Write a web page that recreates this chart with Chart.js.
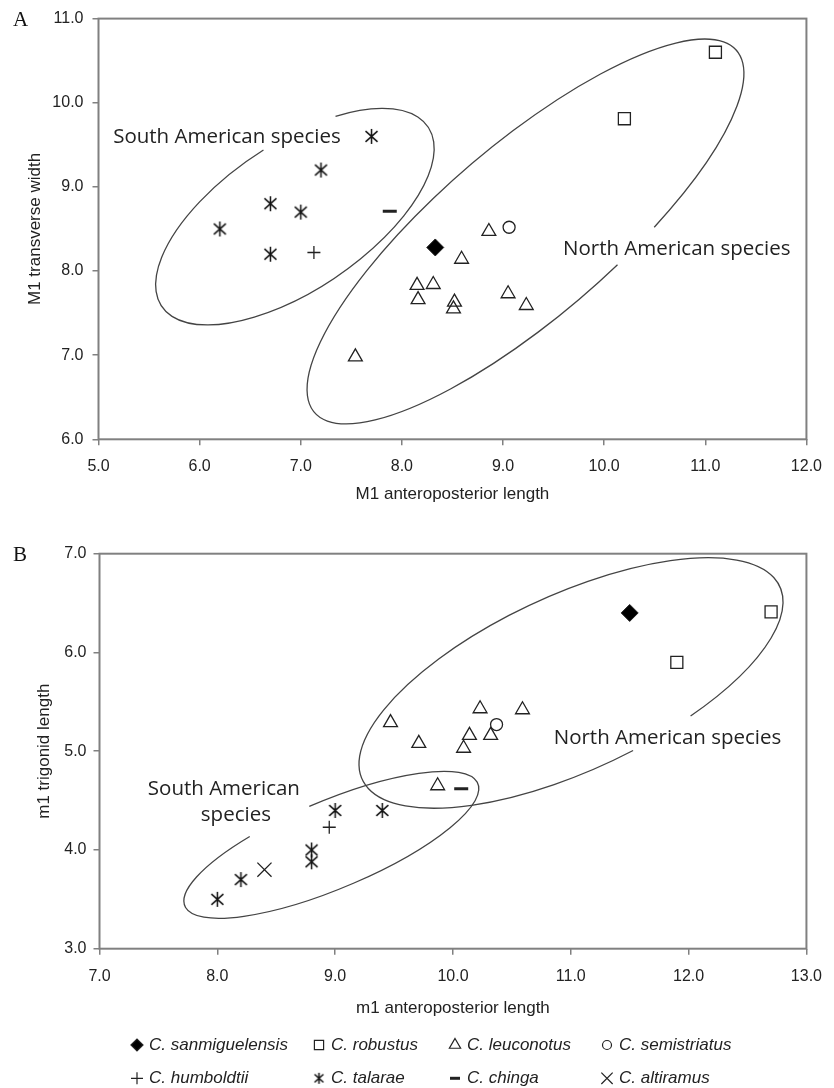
<!DOCTYPE html>
<html>
<head>
<meta charset="utf-8">
<script src="https://cdn.jsdelivr.net/npm/chart.js@4.4.1/dist/chart.umd.min.js"></script>
<style>
  html, body { margin: 0; padding: 0; background: #fff; }
  #wrap { position: relative; width: 834px; height: 1088px; }
  #chartA { position: absolute; left: 0; top: 0; }
  #chartB { position: absolute; left: 0; top: 505px; }
</style>
</head>
<body>
<div id="wrap">
  <canvas id="chartA" width="834" height="505"></canvas>
  <canvas id="chartB" width="834" height="583"></canvas>
</div>
<script>
// legend / dataset order
var species = ['C. sanmiguelensis', 'C. robustus', 'C. leuconotus', 'C. semistriatus',
               'C. humboldtii', 'C. talarae', 'C. chinga', 'C. altiramus'];

// Panel A : M1 anteroposterior length (x) vs M1 transverse width (y)
var aSanmiguelensis = [{x: 8.33, y: 8.28}];
var aRobustus = [{x: 10.2, y: 9.81}, {x: 11.1, y: 10.6}];
var aLeuconotus = [{x: 7.54, y: 6.98}, {x: 8.15, y: 7.83}, {x: 8.31, y: 7.84}, {x: 8.16, y: 7.66},
                   {x: 8.52, y: 7.63}, {x: 8.51, y: 7.55}, {x: 8.59, y: 8.14}, {x: 8.86, y: 8.47},
                   {x: 9.05, y: 7.73}, {x: 9.23, y: 7.59}];
var aSemistriatus = [{x: 9.06, y: 8.52}];
var aHumboldtii = [{x: 7.13, y: 8.22}];
var aTalarae = [{x: 6.2, y: 8.5}, {x: 6.7, y: 8.8}, {x: 6.7, y: 8.2}, {x: 7.0, y: 8.7},
                {x: 7.2, y: 9.2}, {x: 7.7, y: 9.6}];
var aChinga = [{x: 7.88, y: 8.71}];
var aAltiramus = [];

// Panel B : m1 anteroposterior length (x) vs m1 trigonid length (y)
var bSanmiguelensis = [{x: 11.5, y: 6.4}];
var bRobustus = [{x: 11.9, y: 5.9}, {x: 12.7, y: 6.41}];
var bLeuconotus = [{x: 9.47, y: 5.29}, {x: 9.71, y: 5.08}, {x: 9.87, y: 4.65}, {x: 10.09, y: 5.03},
                   {x: 10.14, y: 5.16}, {x: 10.23, y: 5.43}, {x: 10.32, y: 5.16}, {x: 10.59, y: 5.42}];
var bSemistriatus = [{x: 10.37, y: 5.27}];
var bHumboldtii = [{x: 8.95, y: 4.23}];
var bTalarae = [{x: 8.0, y: 3.5}, {x: 8.2, y: 3.7}, {x: 8.8, y: 4.0}, {x: 8.8, y: 3.88},
                {x: 9.0, y: 4.4}, {x: 9.4, y: 4.4}];
var bChinga = [{x: 10.07, y: 4.62}];
var bAltiramus = [{x: 8.4, y: 3.8}];

// tick values
var xTicksA = [5, 6, 7, 8, 9, 10, 11, 12];
var yTicksA = [6, 7, 8, 9, 10, 11];
var xTicksB = [7, 8, 9, 10, 11, 12, 13];
var yTicksB = [3, 4, 5, 6, 7];

var SANS = '"Liberation Sans", Arial, sans-serif';
var INK = '#222';
var AXIS = '#808080';

// little asterisk used for C. talarae (vertical bar + two diagonals)
function talaraeIcon(size) {
  var c = document.createElement('canvas');
  c.width = size; c.height = size;
  var g = c.getContext('2d');
  var m = size / 2, r = size / 2 - 1;
  g.strokeStyle = '#111';
  g.lineWidth = 1.5;
  g.beginPath();
  g.moveTo(m, m - r); g.lineTo(m, m + r);
  g.moveTo(m - r * 0.8, m - r * 0.72); g.lineTo(m + r * 0.8, m + r * 0.72);
  g.moveTo(m - r * 0.8, m + r * 0.72); g.lineTo(m + r * 0.8, m - r * 0.72);
  g.stroke();
  return c;
}
var talaraeBig = talaraeIcon(17);
var talaraeSmall = talaraeIcon(13);

var none = 'rgba(0,0,0,0)';
var markerStyles = {
  'C. sanmiguelensis': {pointStyle: 'rectRot', radius: 8.5, fill: '#000', width: 1, lr: 6},
  'C. robustus':       {pointStyle: 'rect', radius: 8.5, fill: none, width: 1.3, lr: 6.5},
  'C. leuconotus':     {pointStyle: 'triangle', radius: 8, fill: none, width: 1.3, lr: 6.5},
  'C. semistriatus':   {pointStyle: 'circle', radius: 6, fill: none, width: 1.3, lr: 4.5},
  'C. humboldtii':     {pointStyle: 'cross', radius: 6.5, fill: none, width: 1.3, lr: 6},
  'C. talarae':        {pointStyle: talaraeBig, legendStyle: talaraeSmall, radius: 8, fill: none, width: 1.3, lr: 6},
  'C. chinga':         {pointStyle: 'line', radius: 7, fill: none, width: 3, lr: 5},
  'C. altiramus':      {pointStyle: 'crossRot', radius: 10, fill: none, width: 1.3, lr: 8}
};

function buildDatasets(lists) {
  return species.map(function(name, i) {
    var st = markerStyles[name];
    return {
      label: name,
      data: lists[i],
      pointStyle: st.pointStyle,
      pointRadius: st.radius,
      pointHoverRadius: st.radius,
      pointBackgroundColor: st.fill,
      pointBorderColor: '#222',
      pointBorderWidth: st.width,
      showLine: false
    };
  });
}

// ellipses: centre in data units, semi axes in px, rotation + gap as angles in degrees
var ellipsesA = [
  {cx: 6.942, cy: 8.646, rx: 160.6, ry: 73, rot: -34, from: -56, to: 274},
  {cx: 9.222, cy: 8.470, rx: 278, ry: 86.4, rot: -40.6, from: 80, to: 428.8}
];
var ellipsesB = [
  {cx: 8.968, cy: 4.052, rx: 158.8, ry: 44, rot: -22.7, from: -92, to: 243},
  {cx: 11.002, cy: 5.691, rx: 230, ry: 88, rot: -24.8, from: 83, to: 425.7}
];
var notesA = [
  {text: 'South American species', x: 5.145, y: 9.52},
  {text: 'North American species', x: 9.593, y: 8.19}
];
var notesB = [
  {text: 'South American', x: 7.41, y: 4.56},
  {text: 'species', x: 7.86, y: 4.29},
  {text: 'North American species', x: 10.855, y: 5.07}
];

function annotations(panel, ellipses, notes) {
  return {
    id: 'annot' + panel,
    beforeDatasetsDraw: function(chart) {
      var ctx = chart.ctx, sx = chart.scales.x, sy = chart.scales.y, a = chart.chartArea;
      ctx.save();
      // frame round the plot
      ctx.strokeStyle = AXIS;
      ctx.lineWidth = 2;
      ctx.strokeRect(a.left, a.top, a.right - a.left, a.bottom - a.top);
      // ellipses
      ctx.strokeStyle = '#444';
      ctx.lineWidth = 1.3;
      ellipses.forEach(function(e) {
        ctx.beginPath();
        ctx.ellipse(sx.getPixelForValue(e.cx), sy.getPixelForValue(e.cy), e.rx, e.ry,
                    e.rot * Math.PI / 180, e.from * Math.PI / 180, e.to * Math.PI / 180);
        ctx.stroke();
      });
      // group labels
      ctx.fillStyle = INK;
      ctx.font = '20.5px "Open Sans", sans-serif';
      ctx.textBaseline = 'alphabetic';
      ctx.textAlign = 'left';
      notes.forEach(function(n) {
        ctx.fillText(n.text, sx.getPixelForValue(n.x), sy.getPixelForValue(n.y));
      });
      // panel letter
      ctx.font = '21px "Liberation Serif", "Times New Roman", serif';
      ctx.fillStyle = '#111';
      ctx.fillText(panel, 13, a.top + 7);
      ctx.restore();
    }
  };
}

var legendPlugin = {
  id: 'speciesLegend',
  afterDraw: function(chart) {
    var ctx = chart.ctx;
    var cols = [137, 319, 455, 607];
    var rows = [540, 573.3];
    ctx.save();
    species.forEach(function(name, i) {
      var st = markerStyles[name];
      var x = cols[i % 4], y = rows[Math.floor(i / 4)];
      ctx.fillStyle = st.fill;
      ctx.strokeStyle = '#222';
      ctx.lineWidth = st.pointStyle === 'line' ? 3 : 1.2;
      if (Chart.helpers && Chart.helpers.drawPoint) {
        Chart.helpers.drawPoint(ctx, {
          pointStyle: st.legendStyle || st.pointStyle,
          radius: st.lr, rotation: 0, borderWidth: ctx.lineWidth
        }, x, y);
      }
      ctx.fillStyle = INK;
      ctx.font = 'italic 17px ' + SANS;
      ctx.textBaseline = 'middle';
      ctx.textAlign = 'left';
      ctx.fillText(name, x + 12, y);
    });
    ctx.restore();
  }
};

function xAxis(min, max, ticks, title, height) {
  return {
    type: 'linear', min: min, max: max,
    afterBuildTicks: function(s) { s.ticks = ticks.map(function(v) { return {value: v}; }); },
    afterFit: function(s) { s.height = height; },
    border: {display: false},
    grid: {drawOnChartArea: false, drawTicks: true, tickLength: 6, color: AXIS, lineWidth: 1.5},
    ticks: {padding: 12, color: INK, maxRotation: 0, font: {family: SANS, size: 16},
            callback: function(v) { return v.toFixed(1); }},
    title: {display: true, text: title, color: INK, padding: 0, font: {family: SANS, size: 17}}
  };
}
function yAxis(min, max, ticks, title, width, pad) {
  return {
    type: 'linear', min: min, max: max,
    afterBuildTicks: function(s) { s.ticks = ticks.map(function(v) { return {value: v}; }); },
    afterFit: function(s) { s.width = width; },
    border: {display: false},
    grid: {drawOnChartArea: false, drawTicks: true, tickLength: 6, color: AXIS, lineWidth: 1.5},
    ticks: {padding: pad, color: INK, font: {family: SANS, size: 16},
            callback: function(v) { return v.toFixed(1); }},
    title: {display: true, text: title, color: INK, padding: 0, font: {family: SANS, size: 17}}
  };
}

new Chart(document.getElementById('chartA'), {
  type: 'scatter',
  data: {datasets: buildDatasets([aSanmiguelensis, aRobustus, aLeuconotus, aSemistriatus,
                                  aHumboldtii, aTalarae, aChinga, aAltiramus])},
  options: {
    responsive: false, animation: false, events: [],
    layout: {padding: {left: 25, right: 20, top: 17.3, bottom: 0.8}},
    plugins: {legend: {display: false}, tooltip: {enabled: false}},
    scales: {
      x: xAxis(5, 12, xTicksA, 'M1 anteroposterior length', 64.9),
      y: yAxis(6, 11, yTicksA, 'M1 transverse width', 73.5, 9)
    }
  },
  plugins: [annotations('A', ellipsesA, notesA)]
});

new Chart(document.getElementById('chartB'), {
  type: 'scatter',
  data: {datasets: buildDatasets([bSanmiguelensis, bRobustus, bLeuconotus, bSemistriatus,
                                  bHumboldtii, bTalarae, bChinga, bAltiramus])},
  options: {
    responsive: false, animation: false, events: [],
    layout: {padding: {left: 33.8, right: 19, top: 48.7, bottom: 69.8}},
    plugins: {legend: {display: false}, tooltip: {enabled: false}},
    scales: {
      x: xAxis(7, 13, xTicksB, 'm1 anteroposterior length', 69.5),
      y: yAxis(3, 7, yTicksB, 'm1 trigonid length', 65.7, 7)
    }
  },
  plugins: [annotations('B', ellipsesB, notesB), legendPlugin]
});
</script>
</body>
</html>
